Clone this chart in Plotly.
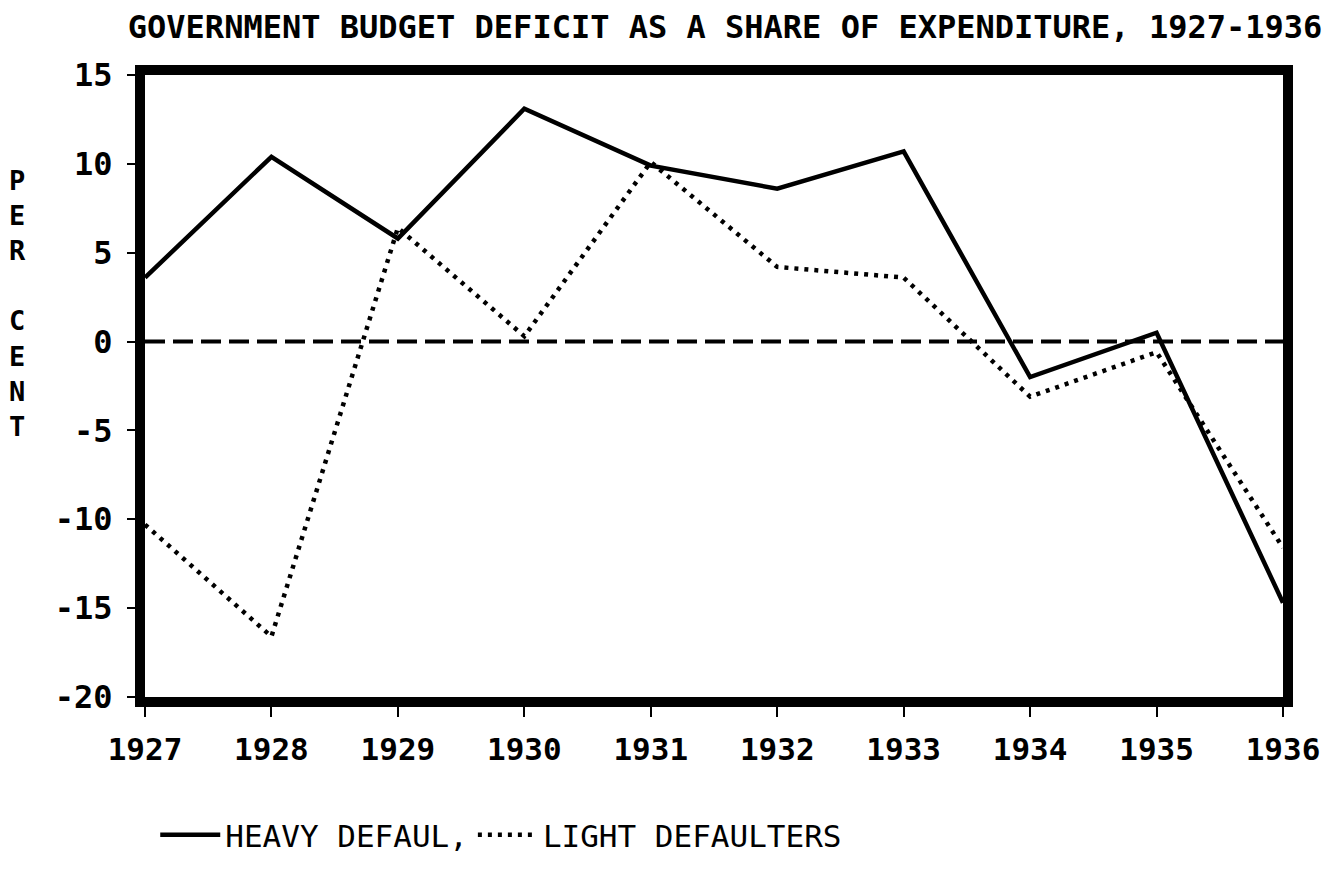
import plotly.graph_objects as go

years = [1927, 1928, 1929, 1930, 1931, 1932, 1933, 1934, 1935, 1936]
heavy = [3.6, 10.4, 5.8, 13.1, 9.9, 8.6, 10.7, -2.0, 0.5, -14.7]
light = [-10.3, -16.6, 6.4, 0.3, 10.1, 4.2, 3.6, -3.1, -0.6, -11.6]
y_ticks = [-20, -15, -10, -5, 0, 5, 10, 15]
y_tick_labels = ["-20", "-15", "-10", "-5", "0", "5", "10", "15"]
x_tick_labels = [str(y) for y in years]

FONT = "DejaVu Sans Mono"

fig = go.Figure()
fig.add_trace(go.Scatter(x=years, y=heavy, mode="lines", name="HEAVY DEFAUL,",
                         line=dict(color="black", width=4.5)))
fig.add_trace(go.Scatter(x=years, y=light, mode="lines", name="LIGHT DEFAULTERS",
                         line=dict(color="black", width=4.5, dash="4px,6px")))

fig.add_hline(y=0, line=dict(color="black", width=4, dash="20px,8px"), layer="below")

fig.update_layout(
    width=1340, height=888,
    paper_bgcolor="white", plot_bgcolor="white",
    margin=dict(l=137, r=65, t=67, b=199),
    font=dict(family=FONT, color="black"),
    title=dict(text="<b>GOVERNMENT BUDGET DEFICIT AS A SHARE OF EXPENDITURE, 1927-1936</b>",
               x=0.5097, xanchor="center", xref="paper", y=0.9786, yanchor="middle",
               font=dict(size=32, family=FONT, color="black")),
    showlegend=True,
    legend=dict(orientation="h", x=0.009, xanchor="left", y=-0.222, yanchor="middle",
                font=dict(size=31, family=FONT, color="black"),
                bgcolor="rgba(0,0,0,0)", itemwidth=60, tracegroupgap=0,
                traceorder="normal"),
    xaxis=dict(range=[1927, 1936], tickmode="array", tickvals=years,
               ticktext=[f"<b>{t}</b>" for t in x_tick_labels],
               showgrid=False, zeroline=False, showline=True, linecolor="black",
               linewidth=10, mirror=True, ticks="outside", ticklen=10, tickwidth=2,
               tickcolor="black", tickfont=dict(size=31, family=FONT, color="black"),
               ticklabelstandoff=6),
    yaxis=dict(range=[-20, 15], tickmode="array", tickvals=y_ticks,
               ticktext=[f"<b>{t}</b>" for t in y_tick_labels],
               showgrid=False, zeroline=False, showline=True, linecolor="black",
               linewidth=10, mirror=True, ticks="outside", ticklen=8, tickwidth=2,
               tickcolor="black", tickfont=dict(size=32, family=FONT, color="black"),
               ticklabelstandoff=8),
)

fig.add_annotation(text="<b>P<br>E<br>R<br> <br>C<br>E<br>N<br>T</b>",
                   xref="paper", yref="paper", x=-0.112, y=0.632,
                   xanchor="center", yanchor="middle", showarrow=False,
                   align="center",
                   font=dict(size=27, family=FONT, color="black"))

fig.write_html("out.html")
